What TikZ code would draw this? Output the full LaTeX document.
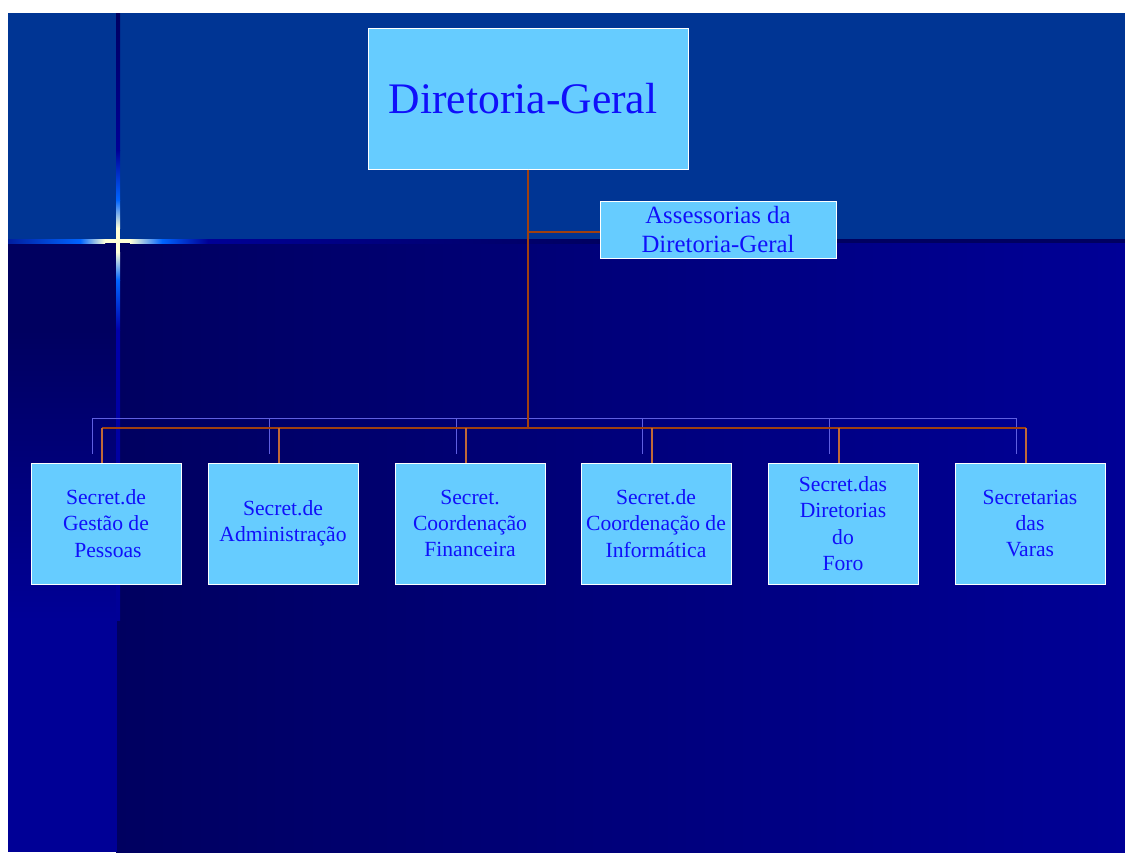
\documentclass[tikz,border=0pt]{standalone}
\usepackage{fontspec}
\setmainfont{Liberation Serif}
\newfontfamily\serifbig{Liberation Serif}
\definecolor{band}{RGB}{0,53,148}
\definecolor{navyD}{RGB}{0,0,96}
\definecolor{navyB}{RGB}{0,0,150}
\definecolor{navyC}{RGB}{0,0,170}
\definecolor{glowB}{RGB}{0,100,255}
\definecolor{glowE}{RGB}{0,30,160}
\definecolor{cream}{RGB}{255,255,215}
\definecolor{boxfill}{RGB}{102,204,255}
\definecolor{txt}{RGB}{16,16,250}
\definecolor{brownline}{RGB}{160,64,16}
\definecolor{dropcol}{RGB}{192,104,56}
\definecolor{lav}{RGB}{95,95,225}
\tikzset{
  box/.style={draw=white, line width=1pt, fill=boxfill, text=txt, inner sep=0pt, align=center},
  childbox/.style={box, minimum width=150pt, minimum height=121pt, font=\serifbig\fontsize{21.6}{26.3}\selectfont},
  conn/.style={draw=brownline, line width=1.5pt},
  dropline/.style={draw=dropcol, line width=1.4pt},
  shadowbus/.style={draw=lav, line width=1pt},
  shadowdrop/.style={draw=lav, line width=1.5pt},
}
\begin{document}
\begin{tikzpicture}[x=1pt,y=1pt]
\useasboundingbox (0,0) rectangle (1125,-852);
\fill[white] (0,0) rectangle (1125,-852);
% background
\fill[band] (8,-13) rectangle (1125,-239);
\shade[left color=navyD, right color=navyB] (116,-243) rectangle (1125,-852);
\fill[navyD] (8,-243) rectangle (116.5,-330);
\shade[top color=navyD, bottom color=navyB] (8,-330) rectangle (116.5,-620);
\fill[navyB] (8,-620) rectangle (116.5,-852);
% horizontal glow line
\shade[left color=glowE, right color=glowB] (8,-239) rectangle (80,-243);
\shade[left color=glowB, right color=cream] (80,-239) rectangle (105,-243);
\fill[cream] (105,-239) rectangle (130,-243);
\shade[left color=cream, right color=glowB] (130,-239) rectangle (162,-243);
\shade[left color=glowB, right color=navyB] (162,-239) rectangle (208,-243);
\shade[left color=navyB, right color=navyD] (208,-239) rectangle (600,-243);
\fill[navyD] (600,-239) rectangle (1125,-243);
% vertical glow line
\shade[top color=navyD, bottom color=navyB] (116,-13) rectangle (120,-150);
\shade[top color=navyB, bottom color=glowB] (116,-150) rectangle (120,-200);
\shade[top color=glowB, bottom color=cream] (116,-200) rectangle (120,-228);
\fill[cream] (116,-228) rectangle (120,-252);
\shade[top color=cream, bottom color=glowB] (116,-252) rectangle (120,-280);
\shade[top color=glowB, bottom color=navyC] (116,-280) rectangle (120,-330);
\shade[top color=navyC, bottom color=navyB] (116,-330) rectangle (120,-620);
% nodes
\node[box, minimum width=320pt, minimum height=141pt, font=\serifbig\fontsize{43.6}{52}\selectfont] (dg) at (528,-98.5) {Diretoria-Geral\hspace*{10pt}};
\node[box, minimum width=236pt, minimum height=57pt, font=\serifbig\fontsize{24.8}{29}\selectfont] (ass) at (718,-229.5) {Assessorias da\\Diretoria-Geral};
\node[childbox] (c1) at (106,-523.5) {Secret.de\\Gestão de\\\hspace*{4pt}Pessoas};
\node[childbox] (c2) at (283,-523.5) {Secret.de\\Administração};
\node[childbox] (c3) at (470,-523.5) {Secret.\\Coordenação\\Financeira};
\node[childbox] (c4) at (656,-523.5) {Secret.de\\Coordenação de\\Informática};
\node[childbox] (c5) at (843,-523.5) {Secret.das\\Diretorias\\do\\Foro};
\node[childbox] (c6) at (1030,-523.5) {Secretarias\\das\\Varas};
% connectors
\coordinate (bus) at (528,-428);
\coordinate (sbus) at (528,-418);
\coordinate (branch) at (528,-232);
\foreach \i in {1,...,6} {
  \coordinate (t\i) at ([xshift=-4pt]c\i.north);
  \coordinate (s\i) at ([xshift=-13.5pt]c\i.north);
}
\draw[shadowbus] (s1 |- sbus) -- (s6 |- sbus);
\foreach \i in {1,...,6} {
  \draw[shadowdrop] (s\i |- sbus) -- ([yshift=9pt]s\i);
}
\draw[conn] (dg.south) -- (bus);
\draw[conn] (branch) -- (ass.west |- branch);
\draw[conn] (t1 |- bus) -- (t6 |- bus);
\foreach \i in {1,...,6} {
  \draw[dropline] (t\i |- bus) -- (t\i);
}
\end{tikzpicture}
\end{document}
